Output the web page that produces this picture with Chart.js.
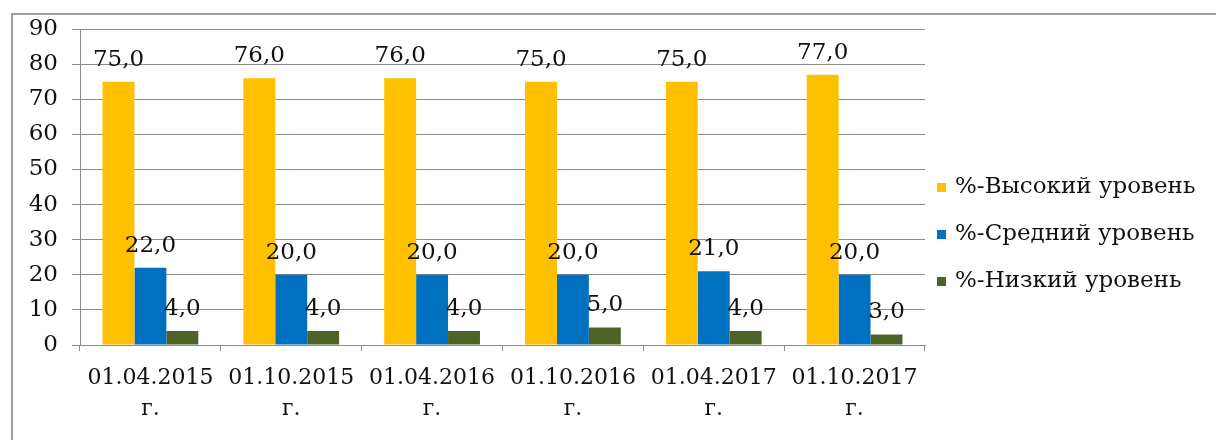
<!DOCTYPE html>
<html>
<head>
<meta charset="utf-8">
<script src="https://cdn.jsdelivr.net/npm/chart.js@4/dist/chart.umd.min.js"></script>
<style>
  html, body { margin: 0; padding: 0; background: #fff; }
</style>
</head>
<body>
<canvas id="chart" width="1216" height="440"></canvas>
<script>
// dates on the x axis (each printed with "г." on a second line)
const dates = ['01.04.2015', '01.10.2015', '01.04.2016', '01.10.2016', '01.04.2017', '01.10.2017'];
const seriesNames = ['%-Высокий уровень', '%-Средний уровень', '%-Низкий уровень'];
const highLevel = [75, 76, 76, 75, 75, 77];
const midLevel = [22, 20, 20, 20, 21, 20];
const lowLevel = [4, 4, 4, 5, 4, 3];
const yTicks = [0, 10, 20, 30, 40, 50, 60, 70, 80, 90];

const COLORS = ['#FFC000', '#0070C0', '#4F6228'];
const FONT = '"DejaVu Serif", serif';
const GRID = '#8c8c8c';

const fmt = v => v.toFixed(1).replace('.', ',');

// outer frame like the one around the original picture
const frame_plugin = {
    id: 'frame',
    beforeDraw: (chart) => {
        const {ctx} = chart;
        ctx.save();
        ctx.fillStyle = '#fff';
        ctx.fillRect(0, 0, chart.width, chart.height);
        ctx.strokeStyle = '#a0a0a0';
        ctx.lineWidth = 2;
        ctx.beginPath();
        ctx.moveTo(12, chart.height);
        ctx.lineTo(12, 14);
        ctx.lineTo(chart.width, 14);
        ctx.stroke();
        ctx.restore();
    }
};

// value labels above each bar
const labels_plugin = {
    id: 'valueLabels',
    afterDatasetsDraw: (chart) => {
        const {ctx} = chart;
        ctx.save();
        ctx.font = `23px ${FONT}`;
        ctx.fillStyle = '#111';
        ctx.textAlign = 'center';
        ctx.textBaseline = 'alphabetic';
        chart.data.datasets.forEach((ds, i) => {
            chart.getDatasetMeta(i).data.forEach((bar, j) => {
                ctx.fillText(fmt(ds.data[j]), bar.x, bar.y - 16);
            });
        });
        ctx.restore();
    }
};

// legend on the right, small square markers
const legend_plugin = {
    id: 'sideLegend',
    afterDraw: (chart) => {
        const {ctx} = chart;
        ctx.save();
        ctx.font = `23px ${FONT}`;
        ctx.textAlign = 'left';
        ctx.textBaseline = 'middle';
        chart.data.datasets.forEach((ds, i) => {
            const y = 187 + i * 47;
            ctx.fillStyle = ds.backgroundColor;
            ctx.fillRect(937, y - 4, 9, 9);
            ctx.fillStyle = '#111';
            ctx.fillText(ds.label, 955, y);
        });
        ctx.restore();
    }
};

const datasets = [highLevel, midLevel, lowLevel].map((values, i) => ({
    label: seriesNames[i],
    data: values,
    backgroundColor: COLORS[i],
    borderWidth: 0,
    categoryPercentage: 0.68,
    barPercentage: 1.0,
}));

new Chart(document.getElementById('chart').getContext('2d'), {
    type: 'bar',
    data: {
        labels: dates.map(d => [d, 'г.']),
        datasets: datasets,
    },
    options: {
        responsive: false,
        animation: false,
        devicePixelRatio: 1,
        layout: {padding: {top: 29, right: 291, left: 0, bottom: 0}},
        scales: {
            x: {
                afterFit: scale => { scale.height = 95; },
                grid: {
                    offset: true,
                    drawOnChartArea: false,
                    tickLength: 6,
                    color: GRID,
                },
                border: {color: GRID, width: 1},
                ticks: {
                    color: '#111',
                    font: {family: FONT, size: 22, lineHeight: 1.4},
                    padding: 12,
                    maxRotation: 0,
                    autoSkip: false,
                },
            },
            y: {
                min: 0,
                max: 90,
                afterFit: scale => { scale.width = 80; },
                afterBuildTicks: scale => { scale.ticks = yTicks.map(v => ({value: v})); },
                grid: {
                    color: GRID,
                    tickLength: 8,
                },
                border: {color: GRID, width: 1},
                ticks: {
                    color: '#111',
                    font: {family: FONT, size: 23},
                    padding: 14,
                },
            },
        },
        plugins: {
            legend: {display: false},
            tooltip: {enabled: false},
        },
    },
    plugins: [frame_plugin, labels_plugin, legend_plugin],
});
</script>
</body>
</html>
